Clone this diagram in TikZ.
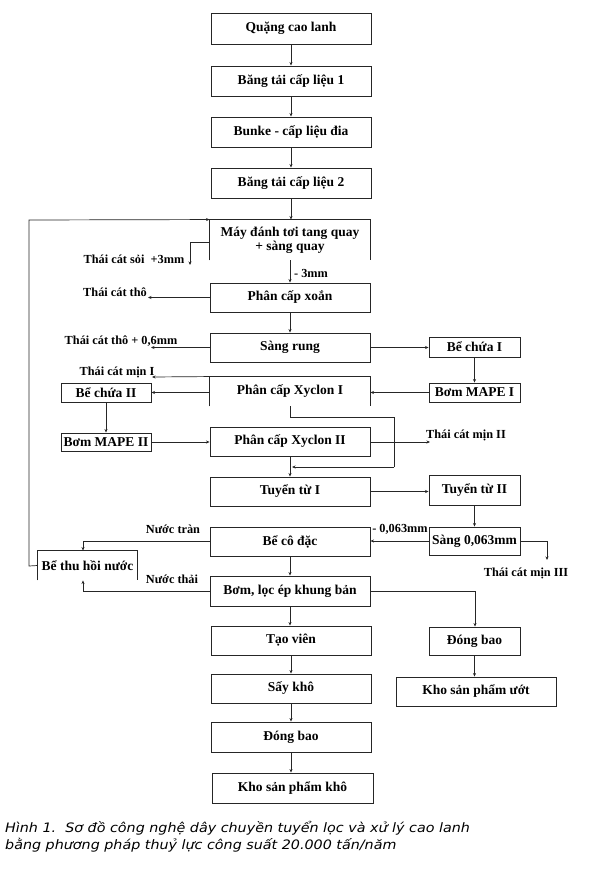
\documentclass[tikz,border=0pt]{standalone}
\usepackage{fontspec}
\setmainfont{Liberation Serif}
\newfontfamily\capfont[FakeStretch=1.1]{DejaVu Sans}
\usetikzlibrary{arrows.meta}
\tikzset{
  bx/.style={draw=black!85, line width=0.9pt, inner sep=0pt, align=center,
    font=\bfseries\fontsize{13.5}{15}\selectfont},
  obx/.style={bx, draw=none},
  lbl/.style={inner sep=0pt, font=\bfseries\fontsize{12.3}{13}\selectfont},
  ln/.style={draw=black!85, line width=0.7pt},
  arr/.style={ln, -{Stealth[length=3.5pt,width=3pt]}},
  oedge/.style={draw=black!85, line width=0.9pt},
}
\begin{document}
\begin{tikzpicture}[x=1pt,y=-1pt]
\useasboundingbox[fill=white] (0,0) rectangle (589,869);
% main column
\node[bx, minimum width=160, minimum height=31] (q1) at (291,28.5) {Quặng cao lanh};
\node[bx, minimum width=160, minimum height=30] (b1) at (291,81) {Băng tải cấp liệu 1};
\node[bx, minimum width=160, minimum height=30] (b2) at (291,132) {Bunke - cấp liệu đia};
\node[bx, minimum width=160, minimum height=30] (b3) at (291,183) {Băng tải cấp liệu 2};
\node[obx, minimum width=160, minimum height=40] (may) at (290,240) {Máy đánh tơi tang quay\\[-1pt]+ sàng quay};
\draw[oedge] (may.south west) -- (may.north west) -- (may.north east) -- (may.south east);
\node[bx, minimum width=160, minimum height=29] (pcx) at (290,297.5) {Phân cấp xoắn};
\node[bx, minimum width=160, minimum height=29] (sr) at (290,347.5) {Sàng rung};
\node[obx, minimum width=160, minimum height=29] (xy1) at (290,391.5) {Phân cấp Xyclon I};
\draw[oedge] (xy1.south west) -- (xy1.north west) -- (xy1.north east) -- (xy1.south east);
\node[bx, minimum width=160, minimum height=29] (xy2) at (290,441.5) {Phân cấp Xyclon II};
\node[bx, minimum width=160, minimum height=29] (tt1) at (290,491.5) {Tuyển từ I};
\node[bx, minimum width=160, minimum height=29] (bcd) at (290,541.5) {Bể cô đặc};
\node[bx, minimum width=160, minimum height=30] (blo) at (290,591) {Bơm, lọc ép khung bản};
\node[bx, minimum width=160, minimum height=29] (tv) at (291,640.5) {Tạo viên};
\node[bx, minimum width=160, minimum height=29] (sk) at (291,688.5) {Sấy khô};
\node[bx, minimum width=160, minimum height=30] (db) at (291,737) {Đóng bao};
\node[bx, minimum width=161, minimum height=30] (kk) at (292.5,788) {Kho sản phẩm khô};
% right column
\node[bx, minimum width=91, minimum height=20] (bc1) at (474.5,347) {Bể chứa I};
\node[bx, minimum width=91, minimum height=19] (bm1) at (474.5,392.5) {Bơm MAPE I};
\node[bx, minimum width=91, minimum height=30] (tt2) at (474.5,490) {Tuyển từ II};
\node[bx, minimum width=91, minimum height=28] (sang) at (474.5,541) {Sàng 0,063mm};
\node[bx, minimum width=91, minimum height=28] (db2) at (474.5,641) {Đóng bao};
\node[bx, minimum width=160, minimum height=29] (ku) at (476,691.5) {Kho sản phẩm ướt};
% left column
\node[bx, minimum width=90, minimum height=19] (bc2) at (106,392.5) {Bể chứa II};
\node[bx, minimum width=90, minimum height=18] (bm2) at (106,442) {Bơm MAPE II};
\node[obx, minimum width=99, minimum height=29] (bth) at (87.5,565.5) {Bể thu hồi nước};
\draw[oedge] (bth.south west) -- (bth.north west) -- (bth.north east) -- (bth.south east);
% labels
\node[lbl] (lsoi) at (134,259) {Thái cát sỏi \ +3mm};
\node[lbl] (l3mm) at (311,273) {- 3mm};
\node[lbl] (ltho) at (115,292) {Thái cát thô};
\node[lbl] (ltho6) at (121,341) {Thái cát thô + 0,6mm};
\node[lbl] (lmin1) at (117,372) {Thái cát mịn I};
\node[lbl] (lmin2) at (466,435) {Thái cát mịn II};
\node[lbl] (l063) at (400,529) {- 0,063mm};
\node[lbl] (lmin3) at (526,573) {Thái cát mịn III};
\node[lbl] (ltran) at (173,529) {Nước tràn};
\node[lbl] (lthai) at (172,579) {Nước thải};
% coordinates
\coordinate (r1) at (29,566);
\coordinate (r2) at (29,220);
\coordinate (s1) at (190,242);
\coordinate (s2) at (190,265);
\coordinate (c1) at (148,297.5);
\coordinate (c2) at (151,347.5);
\coordinate (c3) at (152,377);
\coordinate (c4) at (430,442);
\coordinate (y1) at (290,417);
\coordinate (y2) at (394,417);
\coordinate (y3) at (394,467);
\coordinate (y4) at (292,467);
\coordinate (m1) at (547,541);
\coordinate (m2) at (547,560);
\coordinate (w1) at (83,541);
\coordinate (w2) at (83,591);
\coordinate (d1) at (475,591);
% connectors
\draw[arr] (q1) -- (b1);
\draw[arr] (b1) -- (b2);
\draw[arr] (b2) -- (b3);
\draw[arr] (b3.south) -- (b3.south |- may.north);
\draw[arr] (bth.west) -- (r1) -- (r2) -- (may.north west);
\draw[arr] (s1 -| may.west) -- (s1) -- (s2);
\draw[arr] (may.south) -- (pcx.north);
\draw[arr] (pcx.west) -- (c1);
\draw[arr] (pcx) -- (sr);
\draw[arr] (sr.west) -- (c2);
\draw[arr] (sr.east) -- (sr.east -| bc1.west);
\draw[arr] (bc1) -- (bm1);
\draw[arr] (bm1.west) -- (bm1.west -| xy1.east);
\draw[arr] (xy1.west |- bc2.east) -- (bc2.east);
\draw[arr] (xy1.north west) -- (c3);
\draw[arr] (bc2) -- (bm2);
\draw[arr] (bm2.east) -- (bm2.east -| xy2.west);
\draw[arr] (xy2.east |- c4) -- (c4);
\draw[ln] (xy1.south) -- (y1) -- (y2) -- (y3);
\draw[arr] (y3) -- (y4);
\draw[arr] (xy2.south) -- (tt1.north);
\draw[arr] (tt1.east) -- (tt1.east -| tt2.west);
\draw[arr] (tt2) -- (sang);
\draw[arr] (sang.west) -- (sang.west -| bcd.east);
\draw[arr] (sang.east) -- (m1) -- (m2);
\draw[arr] (bcd.west |- w1) -- (w1) -- (bth.north -| w1);
\draw[arr] (bcd) -- (blo);
\draw[arr] (blo.west |- w2) -- (w2) -- (bth.south -| w2);
\draw[arr] (blo.south) -- (blo.south |- tv.north);
\draw[arr] (tv) -- (sk);
\draw[arr] (sk) -- (db);
\draw[arr] (db.south) -- (db.south |- kk.north);
\draw[arr] (blo.east |- d1) -- (d1) -- (d1 |- db2.north);
\draw[arr] (db2.south) -- (db2.south |- ku.north);
% caption
\node[anchor=north west, inner sep=0pt, align=left,
  font=\capfont\itshape\fontsize{13}{17}\selectfont] (cap) at (5,821)
  {Hình 1.\ \ Sơ đồ công nghệ dây chuyền tuyển lọc và xử lý cao lanh\\bằng phương pháp thuỷ lực công suất 20.000 tấn/năm};
\end{tikzpicture}
\end{document}
